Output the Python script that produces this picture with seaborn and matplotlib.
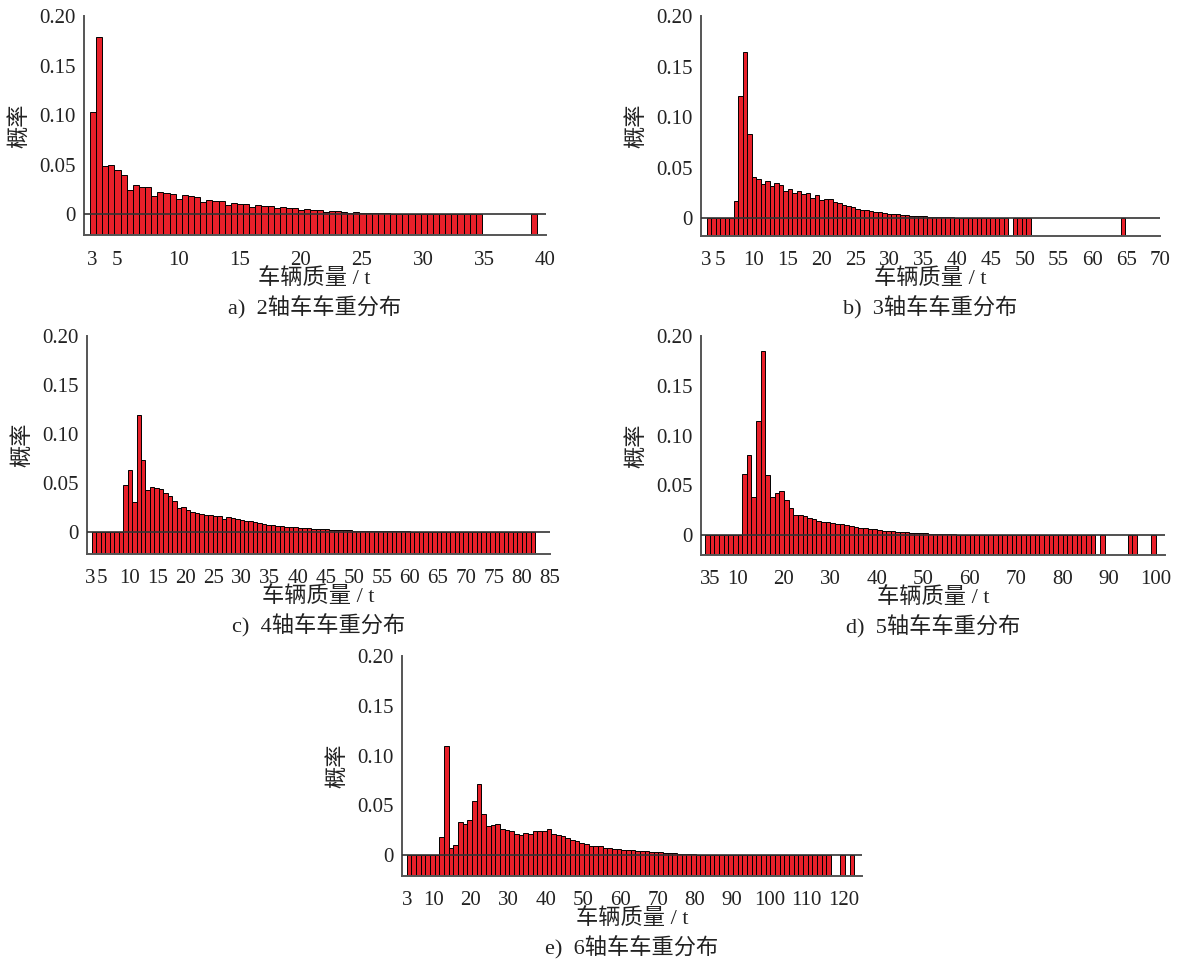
import numpy as np
import pandas as pd
import matplotlib
matplotlib.use("Agg")
import matplotlib.pyplot as plt
import seaborn as sns

nan = np.nan

# probability per weight bin (nan = no bar drawn)
axle2_prob = [0.103, 0.179, 0.049, 0.050, 0.044, 0.039, 0.024, 0.029, 0.027, 0.027,
              0.018, 0.022, 0.021, 0.020, 0.015, 0.019, 0.018, 0.017, 0.0125, 0.014,
              0.0135, 0.013, 0.0095, 0.0115, 0.0105, 0.010, 0.0075, 0.009, 0.0085, 0.008,
              0.006, 0.007, 0.0065, 0.006, 0.004, 0.0048, 0.0043, 0.0038, 0.0025, 0.003,
              0.0026, 0.0022, 0.0014, 0.0017, 0.0014, 0.0011, 0.0007, 0.0009, 0.0007, 0.0005,
              0.0003, 0.0004, 0.0003, 0.0002, 0.0001, 0.0002, 0.0001, 0.0001, 0.0001, 0,
              0, 0, 0, 0, nan, nan, nan, nan, nan, nan,
              nan, nan, 0]

axle3_prob = [0, 0, 0, 0, 0, 0, 0.017, 0.121, 0.164, 0.083,
              0.041, 0.039, 0.034, 0.037, 0.032, 0.035, 0.033, 0.027, 0.029, 0.025,
              0.027, 0.024, 0.025, 0.020, 0.023, 0.018, 0.019, 0.019, 0.016, 0.015,
              0.013, 0.012, 0.011, 0.0095, 0.0085, 0.0078, 0.007, 0.0065, 0.0058, 0.005,
              0.0045, 0.0042, 0.0038, 0.0034, 0.003, 0.0027, 0.0024, 0.0021, 0.0018, 0.0016,
              0.0014, 0.0012, 0.001, 0.0009, 0.0008, 0.0007, 0.0006, 0.0005, 0.0004, 0.0003,
              0.0002, 0.0002, 0.0001, 0.0001, 0, 0, 0, nan, 0, 0,
              0, 0, nan, nan, nan, nan, nan, nan, nan, nan,
              nan, nan, nan, nan, nan, nan, nan, nan, nan, nan,
              nan, nan, 0]

axle4_prob = [0, 0, 0, 0, 0, 0, 0, 0.048, 0.063, 0.030,
              0.119, 0.073, 0.043, 0.046, 0.045, 0.044, 0.039, 0.036, 0.031, 0.024,
              0.025, 0.022, 0.020, 0.019, 0.018, 0.0175, 0.017, 0.0155, 0.016, 0.013,
              0.0145, 0.0135, 0.0125, 0.012, 0.011, 0.0105, 0.0095, 0.0088, 0.008, 0.0072,
              0.0066, 0.006, 0.0056, 0.0052, 0.0048, 0.0044, 0.004, 0.0037, 0.0033, 0.003,
              0.0028, 0.0025, 0.0023, 0.002, 0.0018, 0.0016, 0.0015, 0.0013, 0.0011, 0.001,
              0.0009, 0.0008, 0.0007, 0.0006, 0.0005, 0.0004, 0.0004, 0.0003, 0.0003, 0.0002,
              0.0002, 0.0001, 0.0001, 0, 0, 0, 0, 0, 0, 0,
              0, 0, 0, 0, 0, 0, 0, 0, 0, 0,
              0, 0, 0, 0, 0, 0, 0, 0, 0]

axle5_prob = [0, 0, 0, 0, 0, 0, 0, 0, 0.061, 0.081,
              0.038, 0.115, 0.185, 0.060, 0.038, 0.042, 0.044, 0.035, 0.027, 0.020,
              0.020, 0.019, 0.017, 0.016, 0.014, 0.0135, 0.013, 0.0125, 0.011, 0.0115,
              0.0105, 0.0095, 0.0085, 0.0075, 0.007, 0.0062, 0.0058, 0.005, 0.0045, 0.004,
              0.0037, 0.0033, 0.003, 0.0027, 0.0024, 0.0021, 0.0019, 0.0017, 0.0015, 0.0013,
              0.0011, 0.001, 0.0008, 0.0007, 0.0006, 0.0005, 0.0004, 0.0003, 0.0003, 0.0002,
              0.0002, 0.0001, 0.0001, 0, 0, 0, 0, 0, 0, 0,
              0, 0, 0, 0, 0, 0, 0, 0, 0, 0,
              0, 0, 0, 0, nan, 0, nan, nan, nan, nan,
              nan, 0, 0, nan, nan, nan, 0]

axle6_prob = [0, 0, 0, 0, 0, 0, 0, 0.018, 0.110, 0.007,
              0.0104, 0.033, 0.031, 0.035, 0.054, 0.0715, 0.041, 0.0295, 0.0305, 0.0315,
              0.026, 0.025, 0.0245, 0.0215, 0.0205, 0.0225, 0.021, 0.024, 0.024, 0.024,
              0.026, 0.0215, 0.0205, 0.0195, 0.017, 0.015, 0.014, 0.012, 0.011, 0.0094,
              0.0094, 0.0094, 0.0077, 0.007, 0.0067, 0.006, 0.0057, 0.0052, 0.0048, 0.0045,
              0.0042, 0.0038, 0.0034, 0.0031, 0.0028, 0.0025, 0.0022, 0.0019, 0.0016, 0.0013,
              0.0011, 0.0009, 0.0007, 0.0006, 0.0005, 0.0004, 0.0003, 0.0003, 0.0002, 0.0002,
              0.0001, 0.0001, 0, 0, 0, 0, 0, 0, 0, 0,
              0, 0, 0, 0, 0, 0, 0, 0, 0, 0,
              0, nan, nan, 0, nan, 0]

# bin start / bin width (t)
bins2 = (2.81, 0.5)
bins3 = (3.0, 0.665)
bins4 = (3.2, 0.8)
bins5 = (3.0, 1.0)
bins6 = (2.75, 1.25)

xticks2 = [3, 5, 10, 15, 20, 25, 30, 35, 40]
xticks3 = [3, 5, 10, 15, 20, 25, 30, 35, 40, 45, 50, 55, 60, 65, 70]
xticks4 = [3, 5, 10, 15, 20, 25, 30, 35, 40, 45, 50, 55, 60, 65, 70, 75, 80, 85]
xticks5 = [3, 5, 10, 20, 30, 40, 50, 60, 70, 80, 90, 100]
xticks6 = [3, 10, 20, 30, 40, 50, 60, 70, 80, 90, 100, 110, 120]
yticks = [0, 0.05, 0.10, 0.15, 0.20]
ytick_labels = ["0", "0.05", "0.10", "0.15", "0.20"]

titles = ["a)  2轴车车重分布", "b)  3轴车车重分布", "c)  4轴车车重分布",
          "d)  5轴车车重分布", "e)  6轴车车重分布"]

sns.set_theme(style="white")
plt.rcParams['font.family'] = ['Liberation Serif', 'Noto Sans CJK SC']

W, H = 1177, 960
fig = plt.figure(figsize=(W / 100, H / 100), dpi=100)
RED = "#e8202a"


def panel(box, prob, bins, xlim, ymin, xticks, title):
    l, r, t, b = box
    ax = fig.add_axes([l / W, 1 - b / H, (r - l) / W, (b - t) / H])
    start, width = bins
    prob = np.array(prob, dtype=float)
    centers = start + width * (np.arange(len(prob)) + 0.5)
    df = pd.DataFrame({"weight": centers, "prob": prob}).dropna()
    sns.barplot(data=df, x="weight", y="prob", native_scale=True, width=1,
                color=RED, saturation=1, edgecolor="black", linewidth=0.7,
                errorbar=None, ax=ax)
    # bars start from the bottom of the axes
    for bar in ax.patches:
        top = bar.get_y() + bar.get_height()
        bar.set_y(ymin)
        bar.set_height(top - ymin)
    ax.axhline(0, color="#333333", lw=1.2, zorder=5)
    ax.set_xlim(*xlim)
    ax.set_ylim(ymin, 0.2)
    ax.set_xticks(xticks)
    ax.set_xticklabels([str(v) for v in xticks])
    ax.set_yticks(yticks)
    ax.set_yticklabels(ytick_labels)
    ax.set_xlabel("")
    ax.set_ylabel("")
    for s in ["top", "right"]:
        ax.spines[s].set_visible(False)
    for s in ["left", "bottom"]:
        ax.spines[s].set_color("#555555")
        ax.spines[s].set_linewidth(1.4)
    ax.tick_params(direction="in", length=5, width=1, color="#333333",
                   labelsize=15, labelcolor="#222222", pad=6)
    ax.tick_params(axis="x", pad=11)
    cx = (l + r) / 2
    fig.text(cx / W, 1 - (b + 43) / H, "车辆质量 / t", ha="center", va="center",
             fontsize=16, color="#222222")
    fig.text(cx / W, 1 - (b + 72) / H, title, ha="center", va="center",
             fontsize=16, color="#222222")
    fig.text((l - 64) / W, 1 - (t + b) / 2 / H, "概率", ha="center", va="center",
             rotation=90, fontsize=16, color="#222222")
    return ax


panel((84, 545.5, 16, 235.3), axle2_prob, bins2, (2.32, 40), -0.0215, xticks2, titles[0])
panel((700.7, 1160.2, 16, 236), axle3_prob, bins3, (2.13, 70), -0.0175, xticks3, titles[1])
panel((86.7, 549.7, 335.7, 554), axle4_prob, bins4, (2.3, 85), -0.0228, xticks4, titles[2])
panel((701, 1164.9, 336.3, 555), axle5_prob, bins5, (2.14, 102), -0.020, xticks5, titles[3])
panel((402.3, 861.7, 656, 875.7), axle6_prob, bins6, (1.6, 124.7), -0.0205, xticks6, titles[4])

fig.savefig("out.png", dpi=100)
